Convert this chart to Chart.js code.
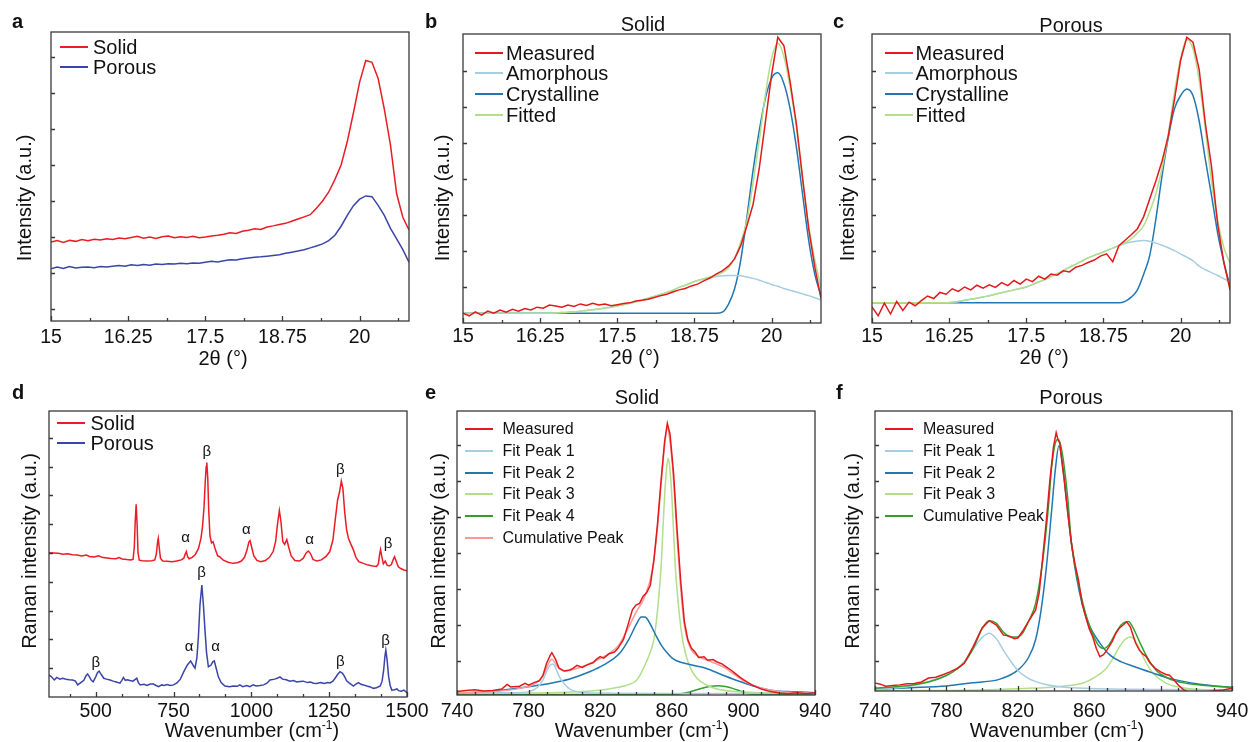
<!DOCTYPE html>
<html><head><meta charset="utf-8">
<script src="https://cdn.jsdelivr.net/npm/chart.js@4.4.1/dist/chart.umd.min.js"></script>
<style>
html,body{margin:0;padding:0;background:#fff;}
body{width:1254px;height:742px;position:relative;overflow:hidden;font-family:"Liberation Sans",Arial,sans-serif;color:#111;}
canvas{position:absolute;}
.t{position:absolute;white-space:nowrap;line-height:1;}
.ln{position:absolute;height:2px;}
</style></head><body>
<script>
// ---------------- DATA ----------------
const twoTheta = [15.0,15.1,15.2,15.3,15.4,15.5,15.6,15.7,15.8,15.9,16.0,16.1,16.2,16.3,16.4,16.5,16.6,16.7,16.8,16.9,17.0,17.1,17.2,17.3,17.4,17.5,17.6,17.7,17.8,17.9,18.0,18.1,18.2,18.3,18.4,18.5,18.6,18.7,18.8,18.9,19.0,19.1,19.2,19.3,19.4,19.5,19.6,19.7,19.8,19.9,20.0,20.1,20.2,20.3,20.4,20.5,20.6,20.7,20.8];

// (a) XRD
const aSolid = [1.86,1.90,1.85,1.91,1.88,1.93,1.90,1.94,1.92,1.95,1.93,1.97,1.95,1.99,2.02,1.97,2.00,1.96,2.01,2.03,1.98,2.01,1.99,2.02,1.98,2.00,2.03,2.05,2.08,2.12,2.10,2.16,2.19,2.23,2.21,2.28,2.31,2.35,2.38,2.44,2.50,2.56,2.62,2.80,3.00,3.25,3.60,4.00,4.65,5.45,6.30,6.90,6.85,6.40,5.55,4.55,3.20,2.55,2.20];
const aPorous = [1.12,1.17,1.13,1.18,1.14,1.16,1.17,1.15,1.18,1.17,1.19,1.21,1.19,1.23,1.21,1.24,1.22,1.25,1.24,1.26,1.25,1.27,1.26,1.28,1.27,1.30,1.33,1.31,1.34,1.37,1.36,1.40,1.42,1.44,1.45,1.47,1.49,1.51,1.55,1.58,1.61,1.65,1.70,1.75,1.81,1.90,2.05,2.30,2.60,2.87,3.05,3.14,3.12,2.88,2.60,2.24,1.95,1.65,1.30];

// (b) Solid XRD fit
const bMeasured = [0.27,0.20,0.31,0.22,0.33,0.27,0.36,0.30,0.38,0.33,0.40,0.36,0.44,0.41,0.50,0.47,0.44,0.50,0.46,0.53,0.49,0.55,0.50,0.53,0.48,0.51,0.54,0.56,0.61,0.63,0.66,0.71,0.76,0.80,0.86,0.92,0.96,1.03,1.08,1.17,1.25,1.36,1.45,1.58,1.78,2.15,2.70,3.30,4.30,5.60,6.90,7.94,7.70,6.70,5.55,4.06,2.62,1.55,0.68];
const bAmorphous = [0.27,0.27,0.27,0.27,0.27,0.27,0.27,0.27,0.27,0.27,0.27,0.27,0.27,0.27,0.27,0.28,0.29,0.30,0.31,0.33,0.35,0.37,0.39,0.42,0.44,0.47,0.51,0.55,0.59,0.64,0.69,0.74,0.79,0.85,0.91,0.99,1.05,1.12,1.18,1.22,1.26,1.29,1.31,1.32,1.32,1.31,1.28,1.24,1.19,1.13,1.07,1.02,0.96,0.91,0.86,0.81,0.76,0.70,0.64];
const bCrystalline = [0.27,0.27,0.27,0.27,0.27,0.27,0.27,0.27,0.27,0.27,0.27,0.27,0.27,0.27,0.27,0.27,0.27,0.27,0.27,0.27,0.27,0.27,0.27,0.27,0.27,0.27,0.27,0.27,0.27,0.27,0.27,0.27,0.27,0.27,0.27,0.27,0.27,0.27,0.27,0.27,0.27,0.27,0.30,0.52,0.95,1.75,2.95,4.25,5.35,6.25,6.80,6.95,6.65,5.95,4.90,3.60,2.30,1.35,0.75];
const bFitted = [0.27,0.27,0.27,0.27,0.27,0.27,0.27,0.27,0.27,0.27,0.27,0.27,0.27,0.27,0.27,0.28,0.29,0.30,0.31,0.33,0.35,0.37,0.39,0.42,0.44,0.47,0.51,0.55,0.59,0.64,0.69,0.74,0.79,0.85,0.91,0.99,1.05,1.12,1.18,1.23,1.28,1.33,1.40,1.53,1.80,2.25,2.85,3.90,5.08,6.35,7.35,7.77,7.40,6.55,5.45,3.97,2.70,1.75,0.98];

// (c) Porous XRD fit
const cMeasured = [0.45,0.20,0.55,0.25,0.60,0.35,0.58,0.48,0.62,0.75,0.68,0.85,0.80,0.95,0.88,1.00,0.92,1.05,0.97,1.06,0.99,1.12,1.04,1.18,1.08,1.22,1.15,1.30,1.22,1.36,1.33,1.45,1.42,1.55,1.60,1.68,1.75,1.86,1.92,1.70,2.15,2.30,2.45,2.62,2.95,3.45,3.95,4.50,5.20,6.20,7.30,7.94,7.80,7.05,5.55,4.35,2.75,1.68,0.92];
const cAmorphous = [0.56,0.56,0.56,0.56,0.56,0.56,0.56,0.56,0.56,0.56,0.56,0.56,0.56,0.58,0.60,0.63,0.66,0.69,0.72,0.76,0.80,0.84,0.88,0.92,0.96,1.00,1.07,1.14,1.21,1.29,1.37,1.46,1.55,1.63,1.72,1.81,1.88,1.94,2.01,2.08,2.15,2.21,2.25,2.28,2.29,2.27,2.22,2.16,2.09,2.01,1.92,1.83,1.73,1.58,1.48,1.40,1.32,1.23,1.15];
const cCrystalline = [0.56,0.56,0.56,0.56,0.56,0.56,0.56,0.56,0.56,0.56,0.56,0.56,0.56,0.56,0.56,0.56,0.56,0.56,0.56,0.56,0.56,0.56,0.56,0.56,0.56,0.56,0.56,0.56,0.56,0.56,0.56,0.56,0.56,0.56,0.56,0.56,0.56,0.56,0.56,0.56,0.56,0.60,0.72,0.92,1.35,1.88,2.90,4.10,5.15,5.95,6.32,6.50,6.32,5.62,4.55,3.55,2.50,1.70,1.02];
const cFitted = [0.56,0.56,0.56,0.56,0.56,0.56,0.56,0.56,0.56,0.56,0.56,0.56,0.56,0.58,0.60,0.63,0.66,0.69,0.72,0.76,0.80,0.84,0.88,0.92,0.96,1.00,1.07,1.14,1.21,1.29,1.37,1.46,1.55,1.63,1.72,1.81,1.88,1.94,2.01,2.08,2.15,2.23,2.34,2.50,2.70,3.10,3.60,4.30,5.25,6.40,7.35,7.88,7.62,6.75,5.40,3.95,2.85,2.10,1.66];

// (d) Raman spectra [wavenumber, intensity]
const dSolid = [[350,5.01],[365,5.00],[380,4.99],[395,4.96],[410,4.97],[425,4.94],[440,4.93],[455,4.90],[470,4.93],[480,4.88],[495,4.86],[510,4.90],[520,4.85],[535,4.83],[550,4.81],[565,4.80],[575,4.84],[585,4.79],[600,4.77],[612,4.76],[620,4.78],[624,5.2],[627,6.1],[630,6.69],[633,6.0],[636,5.0],[640,4.75],[650,4.73],[665,4.72],[680,4.73],[690,4.76],[695,4.98],[699,5.40],[701,5.51],[704,5.20],[708,4.82],[715,4.72],[730,4.71],[745,4.70],[760,4.72],[775,4.76],[783,4.82],[787,4.95],[791,5.05],[795,4.88],[800,4.80],[810,4.85],[820,4.95],[830,5.15],[838,5.50],[843,5.90],[848,6.60],[852,7.50],[855,8.00],[857,8.14],[860,7.60],[863,6.50],[867,5.60],[872,5.35],[877,5.39],[885,5.10],[892,4.90],[898,4.87],[910,4.75],[925,4.68],[941,4.64],[955,4.66],[968,4.72],[978,4.85],[986,5.10],[992,5.38],[996,5.43],[1001,5.20],[1008,4.90],[1018,4.74],[1030,4.70],[1045,4.74],[1058,4.85],[1070,5.05],[1078,5.40],[1084,6.00],[1090,6.47],[1095,6.10],[1101,5.40],[1107,5.30],[1114,5.47],[1120,5.20],[1128,4.90],[1140,4.74],[1155,4.72],[1167,4.82],[1176,5.00],[1183,5.07],[1190,4.98],[1198,4.78],[1210,4.72],[1225,4.76],[1240,4.88],[1252,5.05],[1262,5.45],[1270,6.20],[1277,6.84],[1283,7.10],[1289,7.50],[1294,7.25],[1300,6.40],[1306,5.80],[1312,5.50],[1320,5.30],[1328,5.10],[1336,4.85],[1345,4.70],[1360,4.64],[1375,4.58],[1390,4.55],[1402,4.53],[1408,4.62],[1412,4.95],[1415,5.12],[1419,4.88],[1424,4.62],[1430,4.72],[1436,4.58],[1443,4.55],[1450,4.60],[1456,4.78],[1460,4.87],[1465,4.72],[1472,4.52],[1480,4.46],[1490,4.41],[1500,4.38]];
const dPorous = [[350,0.76],[358,0.70],[367,0.59],[375,0.68],[385,0.62],[394,0.65],[405,0.62],[415,0.60],[426,0.59],[435,0.55],[442,0.42],[452,0.50],[462,0.58],[468,0.72],[474,0.80],[480,0.70],[486,0.58],[492,0.53],[500,0.70],[506,0.85],[511,0.90],[518,0.78],[526,0.65],[535,0.62],[546,0.59],[556,0.55],[566,0.52],[578,0.48],[584,0.58],[589,0.68],[595,0.58],[602,0.60],[610,0.57],[620,0.55],[628,0.62],[632,0.65],[637,0.50],[643,0.42],[655,0.44],[665,0.40],[675,0.45],[686,0.45],[694,0.40],[702,0.36],[712,0.42],[720,0.40],[729,0.43],[740,0.40],[750,0.42],[761,0.49],[772,0.62],[783,0.88],[795,1.12],[805,1.25],[812,1.12],[819,1.00],[825,1.35],[830,2.10],[835,3.2],[841,3.89],[846,3.2],[851,2.33],[856,1.55],[862,1.05],[870,1.10],[876,1.22],[881,1.25],[887,1.0],[894,0.70],[903,0.50],[915,0.38],[930,0.36],[942,0.38],[955,0.37],[963,0.42],[972,0.36],[985,0.40],[995,0.36],[1006,0.42],[1015,0.38],[1028,0.40],[1039,0.42],[1050,0.48],[1060,0.59],[1075,0.62],[1085,0.66],[1092,0.70],[1100,0.62],[1112,0.60],[1124,0.55],[1135,0.57],[1146,0.52],[1156,0.54],[1167,0.55],[1180,0.50],[1190,0.52],[1200,0.48],[1210,0.47],[1222,0.50],[1235,0.47],[1245,0.50],[1253,0.49],[1262,0.55],[1269,0.65],[1277,0.78],[1285,0.88],[1293,0.82],[1300,0.70],[1306,0.56],[1315,0.48],[1328,0.38],[1336,0.45],[1344,0.50],[1352,0.44],[1360,0.42],[1371,0.38],[1382,0.35],[1392,0.30],[1402,0.32],[1414,0.38],[1420,0.55],[1425,0.93],[1429,1.40],[1432,1.63],[1436,1.30],[1441,0.70],[1446,0.40],[1451,0.24],[1460,0.25],[1468,0.28],[1473,0.22],[1482,0.20],[1490,0.24],[1500,0.15]];
const dLabelWave = [857, 789, 984, 1187, 1286, 1439, 840, 800, 885, 500, 1286, 1431];
const dLabelInt  = [8.52, 5.51, 5.82, 5.47, 7.88, 5.31, 4.32, 1.75, 1.75, 1.17, 1.23, 1.96];
const dLabelText = ['β','α','α','α','β','β','β','α','α','β','β','β'];

// (e) Solid Raman fit
const eMeasured = [[740,0.15],[745,0.18],[750,0.20],[755,0.17],[760,0.18],[765,0.22],[768,0.35],[770,0.28],[775,0.30],[778,0.38],[780,0.33],[783,0.40],[786,0.45],[788,0.60],[790,0.93],[792,1.15],[793,1.23],[795,1.05],[797,0.80],[800,0.72],[803,0.75],[805,0.80],[807,0.88],[810,0.82],[813,0.90],[816,0.95],[818,1.05],[820,1.12],[822,1.08],[825,1.20],[828,1.25],[830,1.36],[833,1.60],[835,1.92],[838,2.42],[840,2.55],[842,2.60],[844,2.80],[846,2.90],[848,3.10],[850,3.80],[852,4.80],[854,6.00],[856,7.10],[857.5,7.60],[859,7.30],[861,6.20],[863,4.60],[865,3.20],[867,2.10],[869,1.58],[871,1.35],[873,1.25],[875,1.10],[878,1.12],[880,1.02],[883,1.04],[885,0.98],[888,0.92],[890,0.85],[893,0.75],[895,0.67],[898,0.55],[900,0.48],[905,0.33],[910,0.22],[915,0.15],[920,0.11],[925,0.09],[930,0.12],[935,0.09],[940,0.12]];
const eFit1 = [[740,0.11],[770,0.12],[780,0.15],[785,0.27],[788,0.47],[790,0.70],[792,0.88],[793.5,0.92],[795,0.82],[797,0.58],[800,0.36],[803,0.22],[808,0.14],[820,0.11],[860,0.10],[900,0.10],[940,0.10]];
const eFit2 = [[740,0.10],[760,0.16],[775,0.25],[790,0.36],[803,0.50],[813,0.68],[822,0.89],[831,1.22],[836,1.60],[840,2.00],[843,2.22],[845,2.22],[848,2.02],[851,1.72],[854,1.45],[857,1.25],[861,1.05],[866,0.95],[872,0.88],[879,0.80],[888,0.62],[898,0.43],[906,0.30],[915,0.19],[925,0.15],[940,0.12]];
const eFit3 = [[740,0.10],[780,0.11],[800,0.13],[815,0.17],[822,0.20],[830,0.27],[835,0.33],[840,0.45],[843,0.68],[846,1.00],[848,1.25],[850,1.60],[852,2.40],[854,3.60],[855,4.60],[856,5.60],[857,6.30],[858,6.63],[859,6.30],[860,5.60],[861,4.60],[862,3.60],[864,2.40],[866,1.60],[868,1.15],[870,0.85],[874,0.52],[880,0.32],[887,0.20],[900,0.14],[920,0.11],[940,0.10]];
const eFit4 = [[740,0.07],[800,0.07],[860,0.07],[866,0.10],[870,0.14],[874,0.20],[878,0.26],[882,0.30],[886,0.31],[890,0.29],[894,0.24],[898,0.17],[902,0.10],[906,0.07],[920,0.07],[940,0.07]];
const eCumulative = [[740,0.12],[760,0.15],[775,0.24],[783,0.36],[788,0.58],[791,0.92],[793,1.05],[796,0.85],[800,0.72],[806,0.78],[812,0.88],[818,1.02],[824,1.18],[830,1.42],[835,1.85],[840,2.35],[845,2.80],[849,3.50],[852,4.70],[854,5.90],[856,7.00],[857.5,7.45],[859,7.10],[861,6.00],[863,4.40],[865,3.00],[867,2.00],[870,1.40],[875,1.12],[880,1.02],[885,0.92],[890,0.80],[895,0.62],[900,0.45],[910,0.25],[920,0.15],[940,0.10]];

// (f) Porous Raman fit
const fMeasured = [[740,0.39],[743,0.36],[746,0.30],[750,0.32],[754,0.34],[758,0.37],[762,0.38],[766,0.42],[770,0.53],[774,0.55],[778,0.62],[782,0.70],[786,0.80],[790,0.94],[795,1.40],[800,1.92],[804,2.12],[808,2.00],[812,1.72],[815,1.70],[818,1.62],[820,1.64],[823,1.85],[826,2.10],[830,2.42],[832,2.90],[834,3.90],[836,4.90],[838,6.03],[840,6.95],[841.5,7.34],[842.5,7.15],[843.5,7.05],[845,6.40],[846,6.03],[848,5.10],[850,4.27],[852,3.70],[854,3.25],[856,2.60],[858,2.23],[860,1.90],[862,1.67],[864,1.35],[866,1.12],[868,1.18],[870,1.31],[873,1.55],[875,1.78],[877,1.92],[879,2.00],[881,2.09],[883,1.95],[884,1.80],[886,1.50],[888,1.31],[890,1.20],[892,1.12],[894,0.95],[897,0.80],[900,0.70],[903,0.63],[905,0.61],[908,0.45],[910,0.33],[913,0.20],[915,0.15],[920,0.14],[925,0.13],[930,0.18],[935,0.20],[940,0.25]];
const fFit1 = [[740,0.20],[750,0.25],[760,0.30],[771,0.45],[780,0.60],[786,0.78],[791,1.05],[796,1.40],[800,1.65],[804,1.77],[808,1.62],[812,1.30],[816,1.00],[820,0.74],[825,0.55],[829,0.45],[835,0.36],[845,0.28],[860,0.24],[880,0.22],[940,0.20]];
const fFit2 = [[740,0.22],[760,0.26],[780,0.31],[795,0.40],[810,0.50],[820,0.75],[826,1.10],[830,1.60],[833,2.40],[836,3.60],[839,5.20],[841,6.30],[843,6.97],[845,6.50],[847,5.60],[850,4.30],[853,3.30],[856,2.60],[860,2.00],[866,1.50],[872,1.15],[878,0.98],[885,0.85],[895,0.68],[905,0.52],[922,0.36],[940,0.27]];
const fFit3 = [[740,0.18],[800,0.20],[830,0.25],[845,0.30],[857,0.40],[863,0.55],[868.7,0.75],[873,1.05],[877,1.40],[880,1.60],[883,1.67],[886,1.55],[889,1.25],[892,0.94],[896,0.65],[903,0.39],[910,0.28],[920,0.22],[940,0.19]];
const fCumulative = [[740,0.25],[750,0.28],[760,0.33],[770,0.42],[780,0.60],[786,0.78],[790,0.95],[795,1.35],[800,1.90],[804,2.12],[808,2.05],[812,1.80],[816,1.67],[820,1.67],[823,1.80],[826,2.10],[830,2.60],[834,3.80],[837,5.20],[839,6.40],[841,7.05],[842.5,7.15],[844,7.00],[846,6.40],[848,5.50],[850,4.30],[853,3.40],[856,2.70],[859,2.15],[862,1.75],[865,1.45],[868,1.35],[871,1.45],[874,1.70],[877,1.95],[880,2.08],[882,2.10],[884,1.98],[886,1.78],[889,1.45],[892,1.15],[895,0.90],[898,0.72],[902,0.58],[908,0.45],[915,0.38],[925,0.32],[940,0.27]];

// Tick values / labels
const thetaTicks = [15, 16.25, 17.5, 18.75, 20];
const thetaTickLabels = ['15', '16.25', '17.5', '18.75', '20'];
const thetaMinor = [15.625, 16.875, 18.125, 19.375, 20.625];
const ramanTicks = [500, 750, 1000, 1250, 1500];
const ramanTickLabels = ['500', '750', '1000', '1250', '1500'];
const ramanMinor = [416.67, 583.33, 666.67, 833.33, 916.67, 1083.33, 1166.67, 1333.33, 1416.67];
const fitTicks = [740, 780, 820, 860, 900, 940];
const fitTickLabels = ['740', '780', '820', '860', '900', '940'];
const fitMinor = [750, 760, 770, 790, 800, 810, 830, 840, 850, 870, 880, 890, 910, 920, 930];

// ---------------- RENDERING ----------------
const FONT = '"Liberation Sans", Arial, sans-serif';
const C = {solid:'#ec1c24', porous:'#3a45a8', meas:'#e31a1c', lblue:'#a6cee3', blue:'#1f78b4', lgreen:'#b2df8a', green:'#33a02c', pink:'#fb9a99'};

const framePlugin = {
  id: 'frame',
  afterDraw(chart, args, o) {
    const {ctx, chartArea: a, scales: {x, y}} = chart;
    ctx.save();
    ctx.strokeStyle = '#3a3a3a';
    ctx.lineWidth = 1.3;
    ctx.beginPath();
    o.xMajor.forEach(v => { const p = Math.round(x.getPixelForValue(v)) + 0.5; ctx.moveTo(p, a.bottom); ctx.lineTo(p, a.bottom - 5); });
    o.xMinor.forEach(v => { const p = Math.round(x.getPixelForValue(v)) + 0.5; ctx.moveTo(p, a.bottom); ctx.lineTo(p, a.bottom - 3); });
    o.yTicks.forEach(v => { const p = Math.round(y.getPixelForValue(v)) + 0.5; ctx.moveTo(a.left, p); ctx.lineTo(a.left + 4, p); });
    ctx.stroke();
    ctx.strokeRect(a.left, a.top, a.right - a.left, a.bottom - a.top);
    ctx.restore();
  }
};
const greekPlugin = {
  id: 'greek',
  afterDatasetsDraw(chart, args, o) {
    if (!o.wave) return;
    const {ctx, scales: {x, y}} = chart;
    ctx.save();
    ctx.font = '15px ' + FONT;
    ctx.fillStyle = '#111';
    ctx.textAlign = 'center';
    ctx.textBaseline = 'middle';
    o.wave.forEach((w, i) => ctx.fillText(o.text[i], x.getPixelForValue(w), y.getPixelForValue(o.inten[i])));
    ctx.restore();
  }
};

function ds(label, pts, color, smooth, width) {
  return {label, data: pts.map(p => ({x: p[0], y: p[1]})), borderColor: color, borderWidth: width || 1.5,
    pointRadius: 0, fill: false, tension: smooth ? 0.4 : 0, cubicInterpolationMode: smooth ? 'monotone' : 'default'};
}
function grid(xs, ys) { return xs.map((x, i) => [x, ys[i]]); }

function panel(g, datasets, xs, ys, greek) {
  const cv = document.createElement('canvas');
  cv.width = g.w; cv.height = g.h;
  cv.style.left = g.left + 'px'; cv.style.top = g.top + 'px';
  cv.style.width = g.w + 'px'; cv.style.height = g.h + 'px';
  document.body.appendChild(cv);
  const xh = g.h - g.bottom;
  new Chart(cv, {
    type: 'line',
    data: {datasets},
    plugins: [framePlugin, greekPlugin],
    options: {
      responsive: false, animation: false, devicePixelRatio: 1,
      layout: {padding: {left: g.pl, top: g.pt, right: g.pr, bottom: 0}},
      plugins: {legend: {display: false}, tooltip: {enabled: false},
        frame: {xMajor: xs.ticks, xMinor: xs.minor, yTicks: ys.ticks},
        greek: greek || {}},
      scales: {
        x: {type: 'linear', position: 'bottom', min: xs.min, max: xs.max,
          grid: {display: false, drawTicks: false}, border: {display: false},
          ticks: {padding: g.tp, color: '#111', font: {family: FONT, size: 19.5}, maxRotation: 0, autoSkip: false,
            callback: v => { const i = xs.ticks.indexOf(v); return i >= 0 ? xs.labels[i] : ''; }},
          afterBuildTicks: s => { s.ticks = xs.ticks.map(v => ({value: v})); },
          afterFit: s => { s.height = xh; s.paddingLeft = 0; s.paddingRight = 0; }
        },
        y: {type: 'linear', min: ys.min, max: ys.max,
          grid: {display: false, drawTicks: false}, border: {display: false}, ticks: {display: false},
          afterBuildTicks: s => { s.ticks = ys.ticks.map(v => ({value: v})); },
          afterFit: s => { s.width = 0; s.paddingTop = 0; s.paddingBottom = 0; }
        }
      }
    }
  });
}

const thetaX = {min: 15, max: 20.8, ticks: thetaTicks, labels: thetaTickLabels, minor: thetaMinor};
const ramanX = {min: 350, max: 1500, ticks: ramanTicks, labels: ramanTickLabels, minor: ramanMinor};
const fitX = {min: 740, max: 940, ticks: fitTicks, labels: fitTickLabels, minor: fitMinor};

// a
panel({left: 0, top: 0, w: 420, h: 356, pl: 51, pt: 32, pr: 11, bottom: 321, tp: 4.6},
  [ds('Solid', grid(twoTheta, aSolid), C.solid), ds('Porous', grid(twoTheta, aPorous), C.porous)],
  thetaX, {min: -0.33, max: 7.69, ticks: [0,1,2,3,4,5,6,7]});
// b
panel({left: 420, top: 0, w: 414, h: 356, pl: 43, pt: 34, pr: 13, bottom: 323, tp: 2.3},
  [ds('Measured', grid(twoTheta, bMeasured), C.meas), ds('Fitted', grid(twoTheta, bFitted), C.lgreen, true),
   ds('Amorphous', grid(twoTheta, bAmorphous), C.lblue, true), ds('Crystalline', grid(twoTheta, bCrystalline), C.blue, true)],
  thetaX, {min: 0, max: 8.03, ticks: [1,2,3,4,5,6,7]});
// c
panel({left: 834, top: 0, w: 420, h: 356, pl: 38, pt: 34, pr: 24, bottom: 323, tp: 2.3},
  [ds('Measured', grid(twoTheta, cMeasured), C.meas), ds('Fitted', grid(twoTheta, cFitted), C.lgreen, true),
   ds('Amorphous', grid(twoTheta, cAmorphous), C.lblue, true), ds('Crystalline', grid(twoTheta, cCrystalline), C.blue, true)],
  thetaX, {min: 0, max: 8.03, ticks: [1,2,3,4,5,6,7]});
// d
panel({left: 0, top: 370, w: 440, h: 360, pl: 49, pt: 41, pr: 33, bottom: 327, tp: 3.3},
  [ds('Solid', dSolid, C.solid), ds('Porous', dPorous, C.porous)],
  ramanX, {min: 0, max: 9.93, ticks: [1,2,3,4,5,6,7,8,9]},
  {wave: dLabelWave, inten: dLabelInt, text: dLabelText});
// e
panel({left: 420, top: 370, w: 434, h: 360, pl: 37, pt: 41, pr: 39, bottom: 325, tp: 5.3},
  [ds('Measured', eMeasured, C.meas), ds('Cumulative Peak', eCumulative, C.pink, true),
   ds('Fit Peak 1', eFit1, C.lblue, true), ds('Fit Peak 2', eFit2, C.blue, true),
   ds('Fit Peak 3', eFit3, C.lgreen, true), ds('Fit Peak 4', eFit4, C.green, true)],
  fitX, {min: 0.056, max: 7.94, ticks: [1,2,3,4,5,6,7]});
// f
panel({left: 834, top: 370, w: 420, h: 360, pl: 41, pt: 41, pr: 22, bottom: 321, tp: 9.3},
  [ds('Measured', fMeasured, C.meas), ds('Cumulative Peak', fCumulative, C.green, true),
   ds('Fit Peak 1', fFit1, C.lblue, true), ds('Fit Peak 2', fFit2, C.blue, true),
   ds('Fit Peak 3', fFit3, C.lgreen, true)],
  fitX, {min: 0.17, max: 7.94, ticks: [1,2,3,4,5,6,7]});

// ---------------- TEXT ----------------
function txt(html, x, y, size, opt) {
  opt = opt || {};
  const d = document.createElement('div');
  d.className = 't';
  d.innerHTML = html;
  d.style.fontSize = size + 'px';
  d.style.left = x + 'px';
  d.style.top = y + 'px';
  if (opt.bold) d.style.fontWeight = 'bold';
  if (opt.center) d.style.transform = 'translate(-50%,-50%)';
  else if (opt.rot) d.style.transform = 'translate(-50%,-50%) rotate(-90deg)';
  else if (opt.vmid) d.style.transform = 'translateY(-50%)';
  document.body.appendChild(d);
}
function legend(items, x1, x2, tx, size) {
  items.forEach(([label, color, y]) => {
    const l = document.createElement('div');
    l.className = 'ln';
    l.style.left = x1 + 'px'; l.style.width = (x2 - x1) + 'px'; l.style.top = (y - 1) + 'px';
    l.style.background = color;
    document.body.appendChild(l);
    txt(label, tx, y, size, {vmid: true});
  });
}
// panel letters
txt('a', 12, 11, 20, {bold: true}); txt('b', 425, 11, 20, {bold: true}); txt('c', 833, 11, 20, {bold: true});
txt('d', 12, 382, 20, {bold: true}); txt('e', 425, 382, 20, {bold: true}); txt('f', 836, 382, 20, {bold: true});
// panel titles
txt('Solid', 643, 23.5, 20, {center: true}); txt('Porous', 1071, 25, 20, {center: true});
txt('Solid', 637, 397, 20, {center: true}); txt('Porous', 1071, 397, 20, {center: true});
// axis titles
const xT = '2θ (°)';
const xR = 'Wavenumber (cm<sup style="font-size:0.6em;vertical-align:0.7em;line-height:0">-1</sup>)';
txt(xT, 223, 358, 20, {center: true}); txt(xT, 635, 357, 20, {center: true}); txt(xT, 1044, 357, 20, {center: true});
txt(xR, 252, 730, 20, {center: true}); txt(xR, 642, 730, 20, {center: true}); txt(xR, 1057, 730, 20, {center: true});
txt('Intensity (a.u.)', 24, 198, 20, {rot: true}); txt('Intensity (a.u.)', 442, 198, 20, {rot: true}); txt('Intensity (a.u.)', 846.5, 198, 20, {rot: true});
txt('Raman intensity (a.u.)', 29, 551, 20, {rot: true}); txt('Raman intensity (a.u.)', 437.5, 551, 20, {rot: true}); txt('Raman intensity (a.u.)', 851.5, 551, 20, {rot: true});
// legends
legend([['Solid', C.solid, 46.5], ['Porous', C.porous, 66.7]], 60, 88, 93, 20);
legend([['Measured', C.meas, 52.7], ['Amorphous', C.lblue, 73.3], ['Crystalline', C.blue, 94], ['Fitted', C.lgreen, 114.7]], 475, 503, 506, 20);
legend([['Measured', C.meas, 52.7], ['Amorphous', C.lblue, 73.3], ['Crystalline', C.blue, 94], ['Fitted', C.lgreen, 114.7]], 885, 913, 915.5, 20);
legend([['Solid', C.solid, 422.7], ['Porous', C.porous, 442.7]], 57, 85, 90.5, 20);
legend([['Measured', C.meas, 429.3], ['Fit Peak 1', C.lblue, 451], ['Fit Peak 2', C.blue, 472.7], ['Fit Peak 3', C.lgreen, 494.3], ['Fit Peak 4', C.green, 516], ['Cumulative Peak', C.pink, 537.7]], 465, 493, 502.5, 16);
legend([['Measured', C.meas, 429.3], ['Fit Peak 1', C.lblue, 451], ['Fit Peak 2', C.blue, 472.7], ['Fit Peak 3', C.lgreen, 494.3], ['Cumulative Peak', C.green, 516]], 885, 913, 923, 16);
</script>
</body></html>
